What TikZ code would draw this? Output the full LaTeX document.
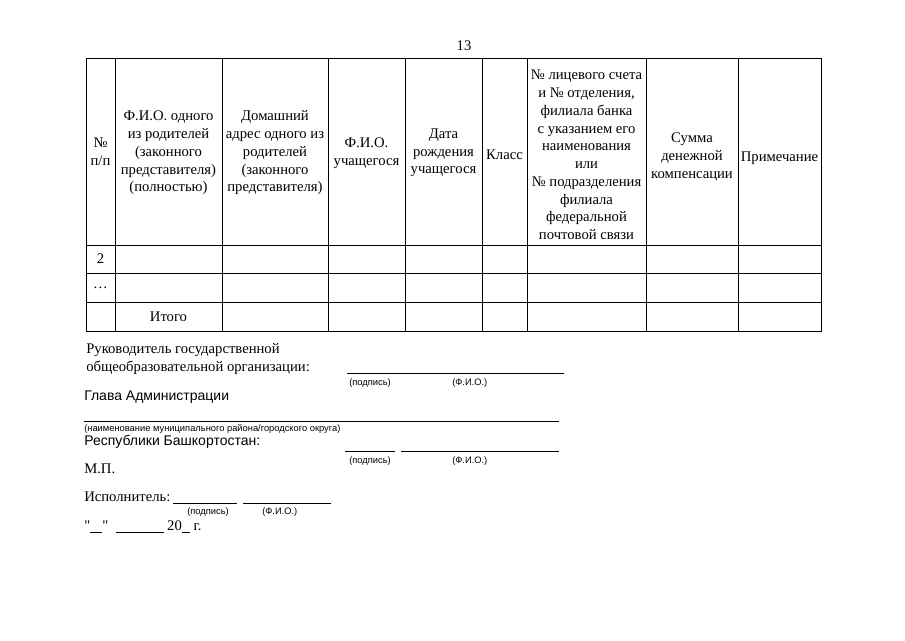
\documentclass[tikz,border=0pt]{standalone}
\usepackage{fontspec}
\setmainfont{Liberation Serif}
\newfontfamily\capfont{Liberation Sans}
\newfontfamily\quotefont{Liberation Serif}
\tikzset{
  grid/.style={line width=0.6pt},
  head/.style={align=center, inner sep=0pt, font=\fontsize{11}{13.3}\selectfont},
  body/.style={anchor=base west, inner sep=0pt, font=\fontsize{11}{13}\selectfont},
  bodysf/.style={body, font=\capfont\fontsize{10.5}{13}\selectfont},
  capt/.style={anchor=base west, inner sep=0pt, font=\capfont\fontsize{7}{8}\selectfont},
  fill line/.style={line width=0.5pt}
}

\begin{document}
\begin{tikzpicture}[x=0.75pt, y=-0.75pt]
\useasboundingbox (0,0) rectangle (905,640);
\node[head] (page) at (464,46) {13};
% table grid
\draw[grid] (86,58) rectangle (821,331);
\foreach \x in {115,222,328,405,482,527,646,738}
  \draw[grid] (\x,58) -- (\x,331);
\foreach \y in {245,273,302}
  \draw[grid] (86,\y) -- (821,\y);
% header cells
\node[head] (nom) at (100.5,152) {№\\п/п};
\node[head] (fioparent) at (168.5,153) {Ф.И.О. одного\\из родителей\\(законного\\представителя)\\(полностью)};
\node[head] (address) at (275,153) {Домашний\\адрес одного из\\родителей\\(законного\\представителя)};
\node[head] (fiostudent) at (366.5,153) {Ф.И.О.\\учащегося};
\node[head] (birth) at (443.5,153) {Дата\\рождения\\учащегося};
\node[head] (grade) at (504.5,155) {Класс};
\node[head] (account) at (586.5,155) {№ лицевого счета\\и № отделения,\\филиала банка\\с указанием его\\наименования\\или\\№ подразделения\\филиала\\федеральной\\почтовой связи};
\node[head] (sum) at (692,157) {Сумма\\денежной\\компенсации};
\node[head] (note) at (779.5,158) {Примечание};
% rows
\node[head] (row2) at (100.5,259) {2};
\node[head] (rowdots) at (100.5,288) {\dots};
\node[head] (total) at (168.5,317) {Итого};
% signatures
\node[body] (head1) at (86,353) {Руководитель государственной};
\node[body] (head2) at (86,371) {общеобразовательной организации:};
\draw[fill line] (347,373) -- (564,373);
\node[capt] (sign1) at (349,385) {(подпись)};
\node[capt] (fio1) at (452,385) {(Ф.И.О.)};
\node[bodysf] (admin) at (84,400) {Глава Администрации};
\draw[fill line] (84,421) -- (559,421);
\node[capt] (munic) at (84,431) {(наименование муниципального района/городского округа)};
\node[bodysf] (rb) at (84,445) {Республики Башкортостан:};
\draw[fill line] (345,451) -- (395,451);
\draw[fill line] (401,451) -- (559,451);
\node[capt] (sign2) at (349,463) {(подпись)};
\node[capt] (fio2) at (452,463) {(Ф.И.О.)};
\node[body] (mp) at (84,473) {М.П.};
\node[body] (exec) at (84,501) {Исполнитель:};
\draw[fill line] (173,503) -- (237,503);
\draw[fill line] (243,503) -- (331,503);
\node[capt] (sign3) at (187,514) {(подпись)};
\node[capt] (fio3) at (262,514) {(Ф.И.О.)};
\node[body] (date) at (84,530) {{\quotefont"}\underline{\hspace{9pt}}{\quotefont"}\ \ \underline{\hspace{36pt}}\ 20\underline{\hspace{6pt}}\ г.};
\end{tikzpicture}
\end{document}
